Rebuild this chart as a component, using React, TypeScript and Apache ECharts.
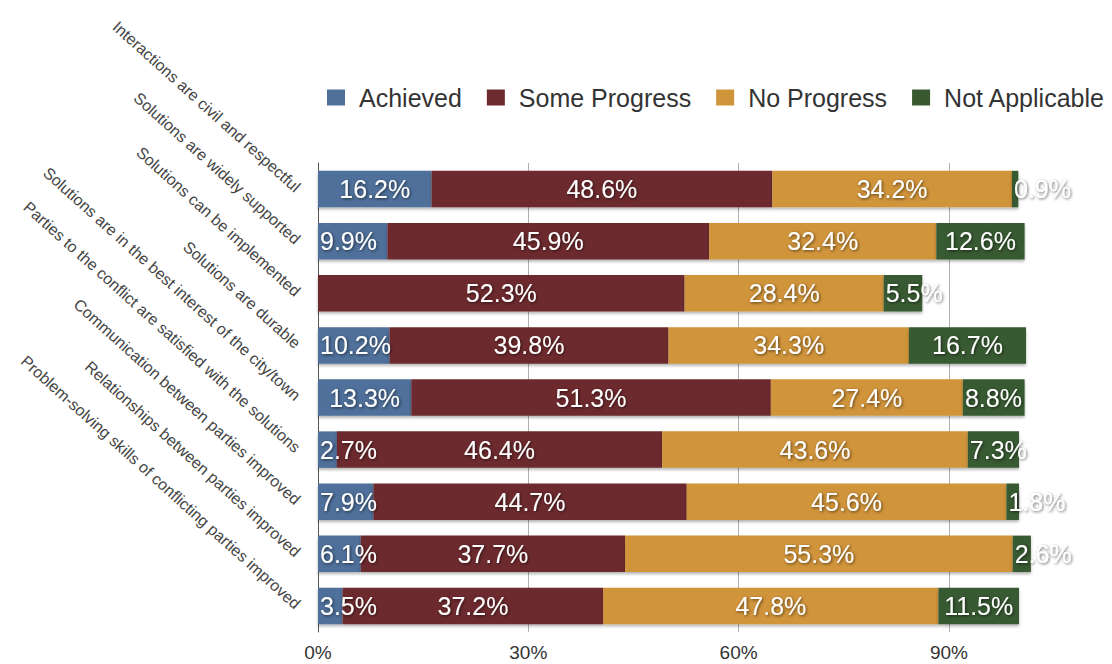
import React, { useEffect, useRef } from "react";
import * as echarts from "echarts";

const categories = [
  "Interactions are civil and respectful",
  "Solutions are widely supported",
  "Solutions can be implemented",
  "Solutions are durable",
  "Solutions are in the best interest of the city/town",
  "Parties to the conflict are satisfied with the solutions",
  "Communication between parties improved",
  "Relationships between parties improved",
  "Problem-solving skills of conflicting parties improved",
];

const seriesNames = ["Achieved", "Some Progress", "No Progress", "Not Applicable"];
const achieved: (number | null)[] = [16.2, 9.9, null, 10.2, 13.3, 2.7, 7.9, 6.1, 3.5];
const someProgress = [48.6, 45.9, 52.3, 39.8, 51.3, 46.4, 44.7, 37.7, 37.2];
const noProgress = [34.2, 32.4, 28.4, 34.3, 27.4, 43.6, 45.6, 55.3, 47.8];
const notApplicable = [0.9, 12.6, 5.5, 16.7, 8.8, 7.3, 1.8, 2.6, 11.5];
const colors = ["#50709a", "#6d2b2f", "#d0943a", "#395a30"];

const xMin = 0;
const xMax = 100;
const xInterval = 30;

const FONT = "'Liberation Sans', Arial, Helvetica, sans-serif";

export default function App() {
  const ref = useRef<HTMLDivElement>(null);

  useEffect(() => {
    if (!ref.current) return;
    const chart = echarts.init(ref.current, undefined, { renderer: "svg" });
    const allData = [achieved, someProgress, noProgress, notApplicable];

    const series = allData.map((arr, si) => ({
      name: seriesNames[si],
      type: "bar",
      stack: "total",
      barWidth: "70%",
      clip: false,
      itemStyle: {
        color: colors[si],
        shadowColor: "rgba(0,0,0,0.3)",
        shadowBlur: 3,
        shadowOffsetY: 2,
      },
      label: {
        show: true,
        color: "#ffffff",
        fontSize: 25,
        fontFamily: FONT,
        textShadowColor: "rgba(0,0,0,0.6)",
        textShadowBlur: 3,
        textShadowOffsetX: 1,
        textShadowOffsetY: 1,
        formatter: (p: any) => (p.value == null ? "" : Number(p.value).toFixed(1) + "%"),
      },
      data: arr.map((v) =>
        v == null
          ? null
          : {
              value: v,
              label: { position: v < 11 ? "insideLeft" : "inside", distance: 2 },
            }
      ),
    }));

    chart.setOption({
      animation: false,
      backgroundColor: "#ffffff",
      textStyle: { fontFamily: FONT },
      legend: {
        data: seriesNames,
        left: 322,
        top: 80,
        icon: "rect",
        itemWidth: 18,
        itemHeight: 16,
        itemGap: 25,
        textStyle: {
          fontSize: 25,
          color: "#333333",
          fontFamily: FONT,
          padding: [0, 0, 0, 9],
        },
      },
      grid: {
        left: 318,
        top: 163,
        bottom: 32,
        right: 93,
        containLabel: false,
      },
      xAxis: {
        type: "value",
        min: xMin,
        max: xMax,
        interval: xInterval,
        axisLine: { show: false },
        axisTick: { show: false },
        splitLine: {
          show: true,
          showMaxLine: false,
          lineStyle: { color: "#b0b0b0", width: 1 },
        },
        axisLabel: {
          formatter: "{value}%",
          showMaxLabel: false,
          fontSize: 19,
          color: "#333333",
          fontFamily: FONT,
          margin: 11,
        },
      },
      yAxis: {
        type: "category",
        inverse: true,
        data: categories,
        axisLine: { show: true, lineStyle: { color: "#555555", width: 1 } },
        axisTick: { show: false },
        splitLine: { show: false },
        axisLabel: {
          rotate: -42,
          fontSize: 16,
          color: "#444444",
          fontFamily: FONT,
          margin: 20,
          align: "right",
          verticalAlign: "middle",
        },
      },
      series,
    });

    return () => chart.dispose();
  }, []);

  return (
    <div
      ref={ref}
      style={{ position: "fixed", left: 0, top: 0, width: 1112, height: 664 }}
    />
  );
}
